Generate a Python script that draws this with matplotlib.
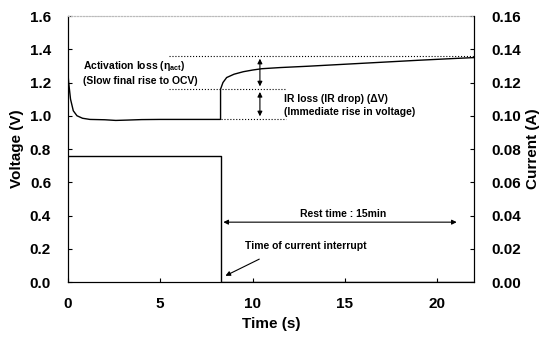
import matplotlib.pyplot as plt

plt.rcParams['font.family'] = ['Liberation Sans', 'DejaVu Sans']
plt.rcParams['font.weight'] = 'bold'

# voltage response during current interrupt
t_v = [0, 0.05, 0.15, 0.3, 0.5, 0.8, 1.2, 2, 2.6, 3.2, 4, 5, 6, 7, 8.27,
       8.27, 8.4, 8.6, 9, 9.5, 10, 10.5, 11.5, 13, 15, 17, 19, 21, 22]
volt = [1.27, 1.2, 1.1, 1.03, 1.0, 0.985, 0.978, 0.976, 0.972, 0.974, 0.977, 0.978, 0.978, 0.978, 0.978,
        1.16, 1.2, 1.23, 1.25, 1.265, 1.275, 1.283, 1.29, 1.298, 1.31, 1.322, 1.334, 1.345, 1.35]

# applied current
t_i = [0, 8.27, 8.27, 22]
curr = [0.076, 0.076, 0.0, 0.0]

t_cut = 8.27

fig = plt.figure(figsize=(5.42, 3.41), dpi=100)
ax = fig.add_axes([0.125, 0.173, 0.75, 0.78])
ax2 = ax.twinx()

ax.plot(t_v, volt, color='black', lw=1.0)
ax2.plot(t_i, curr, color='black', lw=1.0)

ax.set_xlim(0, 22)
ax.set_ylim(0, 1.6)
ax2.set_ylim(0, 0.16)
ax.set_xticks([0, 5, 10, 15, 20])
ax.set_yticks([0.0, 0.2, 0.4, 0.6, 0.8, 1.0, 1.2, 1.4, 1.6])
ax2.set_yticks([0.0, 0.02, 0.04, 0.06, 0.08, 0.10, 0.12, 0.14, 0.16])
ax.set_yticklabels(['%.1f' % v for v in ax.get_yticks()])
ax2.set_yticklabels(['%.2f' % v for v in ax2.get_yticks()])

for a in (ax, ax2):
    a.tick_params(direction='in', length=3, labelsize=11, width=0.8)
    a.spines['top'].set_color('#bbbbbb')
    a.spines['top'].set_linestyle(':')
ax.tick_params(axis='x', pad=11)
ax.tick_params(axis='y', pad=12)
ax2.tick_params(axis='y', pad=12)

ax.set_xlabel('Time (s)', fontsize=11, fontweight='bold')
ax.set_ylabel('Voltage (V)', fontsize=11, fontweight='bold')
ax2.set_ylabel('Current (A)', fontsize=11, fontweight='bold')

# guide lines
ax.plot([5.5, 22], [1.36, 1.36], ls=':', color='black', lw=0.8)
ax.plot([5.5, 11.8], [1.16, 1.16], ls=':', color='black', lw=0.8)
ax.plot([8.27, 11.8], [0.98, 0.98], ls=':', color='black', lw=0.8)

# double arrows for losses
ax.annotate('', xy=(10.4, 1.36), xytext=(10.4, 1.16),
            arrowprops=dict(arrowstyle='<|-|>', color='black', lw=0.8, mutation_scale=7))
ax.annotate('', xy=(10.4, 1.16), xytext=(10.4, 0.98),
            arrowprops=dict(arrowstyle='<|-|>', color='black', lw=0.8, mutation_scale=7))

ax.text(0.8, 1.30, 'Activation loss (\u03b7$\\mathregular{_{act}}$)', fontsize=7.5, fontweight='bold', va='center')
ax.text(0.8, 1.21, '(Slow final rise to OCV)', fontsize=7.5, fontweight='bold', va='center')
ax.text(11.7, 1.10, 'IR loss (IR drop) (\u0394V)', fontsize=7.5, fontweight='bold', va='center')
ax.text(11.7, 1.02, '(Immediate rise in voltage)', fontsize=7.5, fontweight='bold', va='center')

# rest time arrow
ax.annotate('', xy=(t_cut, 0.36), xytext=(21.2, 0.36),
            arrowprops=dict(arrowstyle='<|-|>', color='black', lw=0.8, mutation_scale=7))
ax.text(14.9, 0.41, 'Rest time : 15min', fontsize=7.5, fontweight='bold', ha='center', va='center')

ax.annotate('', xy=(8.4, 0.03), xytext=(10.5, 0.145),
            arrowprops=dict(arrowstyle='-|>', color='black', lw=0.8, mutation_scale=7))
ax.text(9.6, 0.215, 'Time of current interrupt', fontsize=7.5, fontweight='bold', va='center')

fig.savefig('out.png', dpi=100)
